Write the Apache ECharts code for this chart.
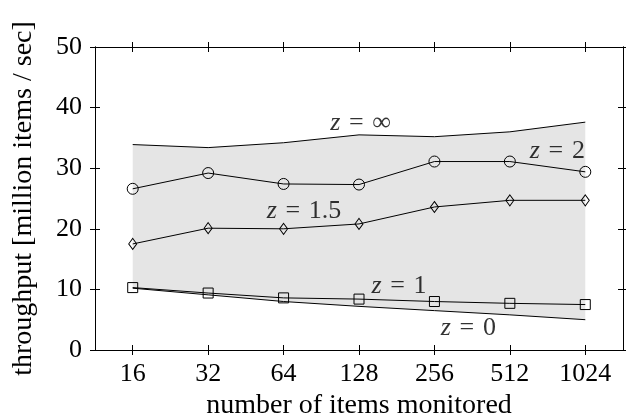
<!DOCTYPE html>
<html>
<head>
<meta charset="utf-8">
<script src="https://cdn.jsdelivr.net/npm/echarts@6/dist/echarts.min.js"></script>
<style>html,body{margin:0;padding:0;background:#fff}#c{width:626px;height:418px}</style>
</head>
<body>
<div id="c"></div>
<script>
const categories = ['16', '32', '64', '128', '256', '512', '1024'];
const zInf = [33.9, 33.4, 34.2, 35.5, 35.2, 36.0, 37.6];
const z2   = [26.6, 29.2, 27.4, 27.3, 31.1, 31.1, 29.4];
const z15  = [17.5, 20.1, 20.0, 20.8, 23.6, 24.7, 24.7];
const z1   = [10.3, 9.4, 8.6, 8.4, 8.0, 7.7, 7.5];
const z0   = [10.2, 9.1, 8.0, 7.2, 6.5, 5.8, 5.0];
const yTicks = [0, 10, 20, 30, 40, 50];
const labelTexts = ['∞', '2', '1.5', '1', '0'];

const FONT = 'Liberation Serif';
const FS = 26;
const NFS = 28;
const black = '#000';

const chart = echarts.init(document.getElementById('c'), null, {renderer: 'canvas'});

function xAx(pos, inside, labels, extra) {
  return Object.assign({
    type: 'category', data: categories, position: pos, boundaryGap: true,
    axisLine: {show: true, onZero: false, lineStyle: {color: black, width: 1}},
    axisTick: {show: true, inside: inside, length: 5, alignWithLabel: true, lineStyle: {color: black, width: 1}},
    axisLabel: {show: labels, color: black, fontFamily: FONT, fontSize: FS, margin: 11},
    splitLine: {show: false}
  }, extra || {});
}
function yAx(pos, inside, labels, extra) {
  return Object.assign({
    type: 'value', min: yTicks[0], max: yTicks[yTicks.length - 1], interval: 10, position: pos,
    axisLine: {show: true, onZero: false, lineStyle: {color: black, width: 1}},
    axisTick: {show: true, inside: inside, length: 5, lineStyle: {color: black, width: 1}},
    axisLabel: {show: labels, color: black, fontFamily: FONT, fontSize: FS, margin: 13},
    splitLine: {show: false}
  }, extra || {});
}

const lineCommon = {
  type: 'line', xAxisIndex: 0, yAxisIndex: 0,
  lineStyle: {color: black, width: 1},
  itemStyle: {color: 'rgba(0,0,0,0)', borderColor: black, borderWidth: 1},
  emphasis: {disabled: true}, animation: false
};

const labelData = [
  [3.02, 37.5, labelTexts[0]],
  [5.63, 32.8, labelTexts[1]],
  [2.27, 22.9, labelTexts[2]],
  [3.53, 10.6, labelTexts[3]],
  [4.45, 3.6, labelTexts[4]]
];

chart.setOption({
  animation: false,
  backgroundColor: '#fff',
  grid: {left: 95, right: 3, top: 47, bottom: 68, outerBoundsMode: 'none'},
  xAxis: [
    xAx('bottom', false, true, {
      name: 'number of items monitored', nameLocation: 'middle', nameGap: 38,
      nameTextStyle: {color: black, fontFamily: FONT, fontSize: NFS}
    }),
    xAx('bottom', true, false),
    xAx('top', true, false),
    xAx('top', false, false),
    {type: 'value', min: -0.5, max: 6.5, show: false,
     axisLine: {show: false, onZero: false}, axisTick: {show: false}, axisLabel: {show: false}, splitLine: {show: false}}
  ],
  yAxis: [
    yAx('left', false, true, {
      name: 'throughput [million items / sec]', nameLocation: 'middle', nameGap: 57, nameRotate: 90,
      nameTextStyle: {color: black, fontFamily: FONT, fontSize: NFS}
    }),
    yAx('left', true, false),
    yAx('right', true, false),
    yAx('right', false, false)
  ],
  series: [
    {type: 'line', data: z0, stack: 'band', symbol: 'none', lineStyle: {opacity: 0}, silent: true, z: 1},
    {type: 'line', data: zInf.map((v, i) => v - z0[i]), stack: 'band', symbol: 'none',
     lineStyle: {opacity: 0}, areaStyle: {color: '#e5e5e5', opacity: 1}, silent: true, z: 1},
    Object.assign({}, lineCommon, {name: 'z=inf', data: zInf, symbol: 'none', z: 3}),
    Object.assign({}, lineCommon, {name: 'z=0', data: z0, symbol: 'none', z: 3}),
    Object.assign({}, lineCommon, {name: 'z=2', data: z2, symbol: 'circle', symbolSize: 11, z: 4}),
    Object.assign({}, lineCommon, {name: 'z=1.5', data: z15, symbol: 'diamond', symbolSize: [8, 11], z: 4}),
    Object.assign({}, lineCommon, {name: 'z=1', data: z1, symbol: 'rect', symbolSize: 10, z: 4}),
    {
      type: 'scatter', xAxisIndex: 4, yAxisIndex: 0, data: labelData, symbolSize: 0, silent: true, z: 5,
      label: {
        show: true, position: 'inside', color: black, fontFamily: FONT, fontSize: FS,
        formatter: p => '{i|z}\u2004=\u2004' + p.data[2],
        rich: {i: {fontStyle: 'italic', fontFamily: FONT, fontSize: FS, color: black}}
      }
    }
  ]
});
</script>
</body>
</html>
